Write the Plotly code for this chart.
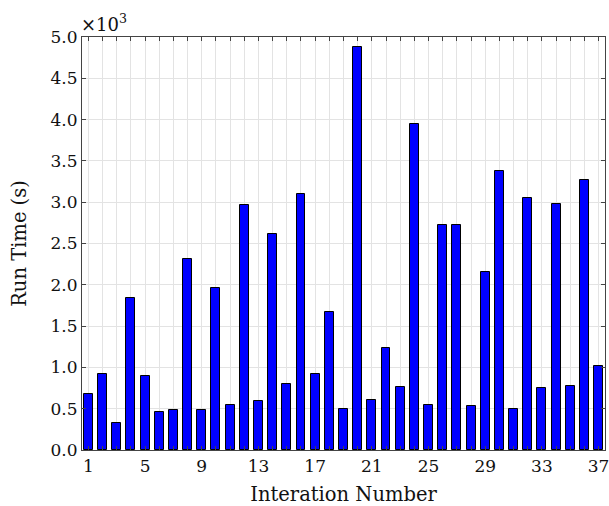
import plotly.graph_objects as go

iterations = list(range(1, 38))
run_time_s = [680, 920, 330, 1840, 900, 460, 490, 2310, 490, 1960,
              540, 2970, 590, 2620, 800, 3100, 920, 1670, 500, 4880,
              610, 1240, 760, 3950, 550, 2720, 2720, 530, 2150, 3380,
              500, 3050, 750, 2980, 770, 3270, 1020]
x_label_ticks = [1, 5, 9, 13, 17, 21, 25, 29, 33, 37]
y_ticks = [0, 500, 1000, 1500, 2000, 2500, 3000, 3500, 4000, 4500, 5000]
y_ticktext = ["0.0", "0.5", "1.0", "1.5", "2.0", "2.5", "3.0", "3.5", "4.0", "4.5", "5.0"]

font_family = "DejaVu Serif"

fig = go.Figure(go.Bar(
    x=iterations, y=run_time_s, width=0.63,
    marker=dict(color="#0000ff", line=dict(color="#000000", width=1)),
))

fig.update_layout(
    width=609, height=506,
    margin=dict(l=82, r=4, t=37, b=56, autoexpand=False),
    plot_bgcolor="white", paper_bgcolor="white",
    font=dict(family=font_family, size=17, color="#111"),
    showlegend=False,
    bargap=0,
)
fig.update_xaxes(
    range=[0.55, 37.45],
    tickvals=iterations,
    ticktext=[str(i) if i in x_label_ticks else "" for i in iterations],
    ticks="inside", ticklen=4, tickcolor="#444",
    showline=True, linecolor="#444", linewidth=1.2, mirror="allticks",
    showgrid=True, gridcolor="#e3e3e3", gridwidth=1,
    zeroline=False, automargin=False, ticklabeloverflow="allow",
    title=dict(text="Interation Number", standoff=13, font=dict(size=19.5)),
)
fig.update_yaxes(
    range=[0, 5000],
    tickvals=y_ticks, ticktext=y_ticktext,
    ticks="inside", ticklen=4, tickcolor="#444",
    showline=True, linecolor="#444", linewidth=1.2, mirror="allticks",
    showgrid=True, gridcolor="#e3e3e3", gridwidth=1,
    zeroline=False, automargin=False, ticklabeloverflow="allow",
    title=dict(text="Run Time (s)", standoff=18, font=dict(size=19.5)),
)
fig.add_annotation(
    x=0, y=1, xref="paper", yref="paper", xanchor="left", yanchor="bottom",
    text="×10<sup>3</sup>", showarrow=False, yshift=0, xshift=-3,
    font=dict(family=font_family, size=18),
)

fig.write_html("out.html", config={"displayModeBar": False},
               post_script="document.body.style.margin='0';")
